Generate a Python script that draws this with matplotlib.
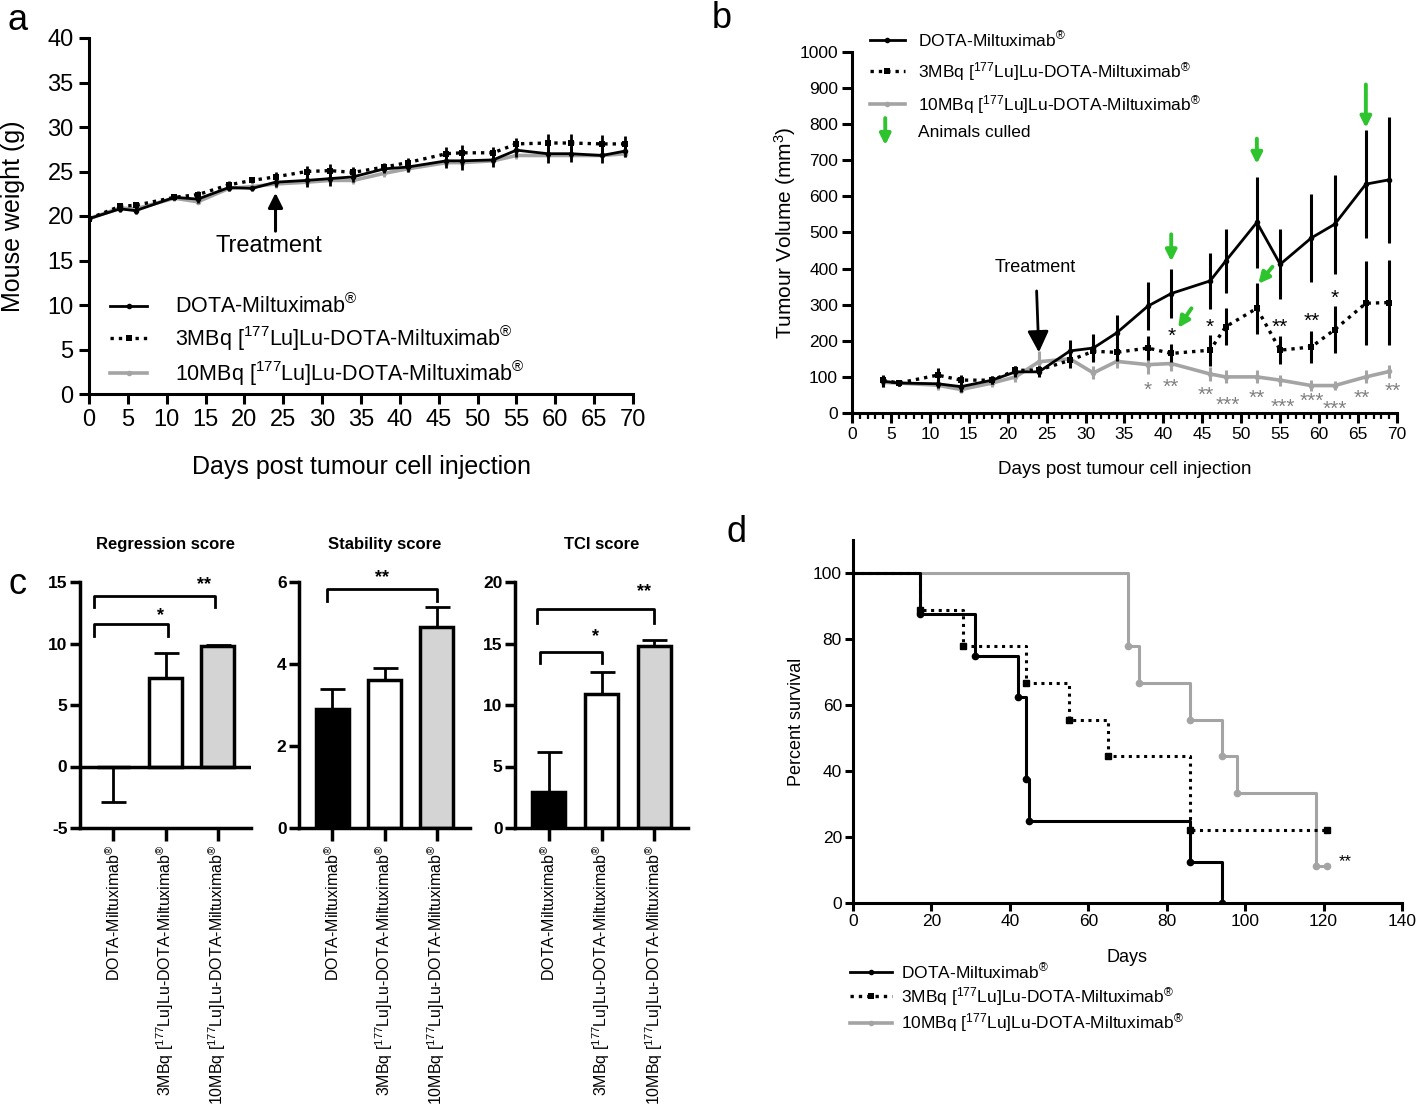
"""
Four-panel figure: body weight, tumour volume, response scores and survival.
"""
import matplotlib
matplotlib.use('Agg')
import matplotlib.pyplot as plt
from matplotlib.lines import Line2D
from matplotlib.ticker import MultipleLocator

plt.rcParams['font.family'] = ['Liberation Sans', 'DejaVu Sans']
plt.rcParams['mathtext.fontset'] = 'custom'
plt.rcParams['mathtext.rm'] = 'Liberation Sans'
plt.rcParams['mathtext.it'] = 'Liberation Sans:italic'
plt.rcParams['mathtext.bf'] = 'Liberation Sans:bold'
plt.rcParams['axes.unicode_minus'] = False

GREY = '#a4a4a4'
STAR_GREY = '#808080'
GREEN = '#2dc42d'

GROUPS = [r'DOTA-Miltuximab$^{\circledR}$',
          r'3MBq [$^{177}$Lu]Lu-DOTA-Miltuximab$^{\circledR}$',
          r'10MBq [$^{177}$Lu]Lu-DOTA-Miltuximab$^{\circledR}$']

# panel a: mouse weight (g)
days_a = [0, 4, 6, 11, 14, 18, 21, 24, 28, 31, 34, 38, 41, 46, 48, 52, 55,
          59, 62, 66, 69]
weight_ctrl = [19.7, 20.8, 20.6, 22.1, 21.9, 23.2, 23.1, 23.8, 24.0, 24.2,
               24.4, 25.3, 25.5, 26.2, 26.2, 26.3, 27.4, 27.0, 27.0, 26.8, 27.3]
weight_ctrl_err = [0.3, 0.4, 0.4, 0.3, 0.4, 0.4, 0.3, 0.5, 0.7, 0.8, 0.6, 0.5,
                   0.5, 0.8, 1.0, 0.8, 0.8, 1.0, 0.9, 0.9, 0.7]
weight_3mbq = [19.7, 21.1, 21.2, 22.1, 22.4, 23.5, 24.0, 24.4, 25.0, 25.1,
               24.9, 25.5, 26.0, 27.0, 27.1, 27.1, 28.1, 28.2, 28.2, 28.1, 28.1]
weight_3mbq_err = [0.3, 0.4, 0.4, 0.3, 0.4, 0.4, 0.3, 0.5, 0.6, 0.7, 0.6, 0.5,
                   0.5, 0.7, 0.9, 0.7, 0.7, 1.0, 1.0, 1.0, 0.9]
weight_10mbq = [19.7, 20.9, 20.8, 22.0, 21.6, 23.1, 23.3, 23.6, 23.8, 24.0,
                24.0, 24.8, 25.3, 26.0, 26.0, 26.2, 26.8, 26.8, 26.8, 26.8, 27.0]
weight_10mbq_err = [0.3, 0.3, 0.3, 0.3, 0.3, 0.3, 0.3, 0.4, 0.4, 0.4, 0.4, 0.4,
                    0.4, 0.4, 0.4, 0.4, 0.4, 0.4, 0.4, 0.4, 0.4]

# panel b: tumour volume (mm3)
days_b = [4, 6, 11, 14, 18, 21, 24, 28, 31, 34, 38, 41, 46, 48, 52, 55, 59,
          62, 66, 69]
vol_ctrl = [88, 83, 81, 73, 91, 114, 114, 172, 180, 222, 296, 331, 366, 421,
            528, 412, 485, 523, 634, 646]
vol_ctrl_err = [15, 8, 12, 15, 12, 15, 15, 30, 38, 50, 67, 67, 77, 88, 127,
                97, 123, 137, 150, 175]
vol_3mbq = [91, 83, 105, 91, 91, 118, 119, 146, 171, 168, 180, 165, 174, 239,
            290, 174, 183, 231, 304, 306]
vol_3mbq_err = [15, 8, 20, 15, 12, 12, 12, 20, 25, 25, 33, 25, 43, 52, 70, 38,
                44, 65, 116, 118]
vol_10mbq = [85, 83, 77, 65, 83, 100, 142, 150, 111, 143, 134, 137, 108, 100,
             100, 91, 76, 76, 100, 115]
vol_10mbq_err = [12, 8, 12, 10, 10, 15, 30, 18, 18, 18, 25, 20, 20, 18, 18, 15,
                 15, 12, 18, 18]
stars_3mbq = [(41, 212, '*'), (46, 236, '*'), (55, 236, '**'), (59, 254, '**'),
              (62, 318, '*')]
stars_10mbq = [(38, 62, '*'), (41, 70, '**'), (45.5, 48, '**'),
               (48.3, 20, '***'), (52, 42, '**'), (55.3, 16, '***'),
               (59, 32, '***'), (62, 10, '***'), (65.5, 42, '**'),
               (69.5, 60, '**')]
culled_vertical = [(41, 495, 420), (52, 760, 690), (66, 910, 790)]
culled_diagonal = [((43.6, 290), (41.9, 236)), ((54.0, 405), (52.2, 358))]

# panel c: response scores, one entry per group
score_titles = ['Regression score', 'Stability score', 'TCI score']
score_means = [[-0.05, 7.2, 9.8], [2.9, 3.6, 4.9], [2.9, 10.9, 14.8]]
score_sem = [[2.85, 2.0, 0.1], [0.5, 0.3, 0.5], [3.3, 1.8, 0.5]]
score_limits = [(-5, 15), (0, 6), (0, 20)]
score_ticks = [[-5, 0, 5, 10, 15], [0, 2, 4, 6], [0, 5, 10, 15, 20]]
# (left group, right group, bar height, leg end, star, star x, star y)
score_brackets = [
    [(-0.37, 1.04, 11.6, 10.6, '*', 0.9, 12.3),
     (-0.37, 1.94, 13.9, 13.0, '**', 1.73, 14.8)],
    [(-0.1, 2.0, 5.83, 5.54, '**', 0.96, 6.1)],
    [(-0.17, 1.0, 14.3, 13.4, '*', 0.88, 15.6),
     (-0.22, 2.0, 17.8, 16.7, '**', 1.8, 19.2)],
]

# panel d: Kaplan-Meier steps (day, percent survival)
surv_ctrl_t = [0, 17, 31, 42, 44, 45, 86, 94]
surv_ctrl = [100, 87.5, 75, 62.5, 37.5, 25, 12.5, 0]
surv_3mbq_t = [0, 17, 28, 44, 55, 65, 86, 121]
surv_3mbq = [100, 88.9, 77.8, 66.7, 55.6, 44.4, 22.2, 22.2]
surv_10mbq_t = [0, 70, 73, 86, 94, 98, 118, 121]
surv_10mbq = [100, 77.8, 66.7, 55.6, 44.4, 33.3, 11.1, 11.1]

W, H = 1418, 1116
fig = plt.figure(figsize=(W / 100, H / 100), dpi=100)


def add_ax(left, top, right, bottom):
    return fig.add_axes([left / W, 1 - bottom / H, (right - left) / W,
                         (bottom - top) / H])


def prism_axes(ax, lw=2.0, length=6, size=12, pad=2):
    for side in ('top', 'right'):
        ax.spines[side].set_visible(False)
    for side in ('left', 'bottom'):
        ax.spines[side].set_linewidth(lw)
    ax.tick_params(width=lw, length=length, labelsize=size, pad=pad)


line_styles = [
    dict(color='black', ls='-', marker='o', ms=4, lw=2.0, mew=0),
    dict(color='black', ls=(0, (1, 1.5)), marker='s', ms=4.5, lw=2.4, mew=0),
    dict(color=GREY, ls='-', marker='o', ms=4, lw=2.6, mew=0),
]
handles = [Line2D([], [], **st) for st in line_styles]

# ---------------------------------------------------------------- panel a
ax_a = add_ax(89, 38, 633, 394)
series_a = [(weight_10mbq, weight_10mbq_err, 2),
            (weight_3mbq, weight_3mbq_err, 3),
            (weight_ctrl, weight_ctrl_err, 4)]
for (vals, errs, z), st in zip(series_a, line_styles[::-1]):
    ax_a.errorbar(days_a, vals, yerr=errs, capsize=4, elinewidth=2,
                  capthick=2, zorder=z, **st)
ax_a.set_xlim(0, 70)
ax_a.set_ylim(0, 40)
ax_a.set_xticks(range(0, 71, 5))
ax_a.set_yticks(range(0, 41, 5))
prism_axes(ax_a, lw=2.2, length=7, size=17, pad=4)
ax_a.set_xlabel('Days post tumour cell injection', fontsize=18, labelpad=17)
ax_a.set_ylabel('Mouse weight (g)', fontsize=18, labelpad=16)
ax_a.annotate('', xy=(24, 22.6), xytext=(24, 18.3),
              arrowprops=dict(arrowstyle='-|>', lw=2.2, color='black',
                              mutation_scale=22, shrinkA=0, shrinkB=0))
ax_a.text(23.2, 16.6, 'Treatment', ha='center', va='center', fontsize=17)
ax_a.legend(handles, GROUPS, loc='lower left', bbox_to_anchor=(0.039, 0.018),
            frameon=False, fontsize=15.5, handlelength=1.7,
            handletextpad=1.3, labelspacing=0.25, borderpad=0,
            borderaxespad=0)

# ---------------------------------------------------------------- panel b
ax_b = add_ax(852, 52, 1397, 413)
series_b = [(vol_10mbq, vol_10mbq_err, 2), (vol_3mbq, vol_3mbq_err, 3),
            (vol_ctrl, vol_ctrl_err, 4)]
for (vals, errs, z), st in zip(series_b, line_styles[::-1]):
    ax_b.errorbar(days_b, vals, yerr=errs, capsize=4, elinewidth=2.2,
                  capthick=2.2, zorder=z, **st)
ax_b.set_xlim(0, 70)
ax_b.set_ylim(0, 1000)
ax_b.set_xticks(range(0, 71, 5))
ax_b.xaxis.set_minor_locator(MultipleLocator(1))
ax_b.set_yticks(range(0, 1001, 100))
prism_axes(ax_b, lw=2.2, length=7, size=12.5, pad=3)
ax_b.tick_params(axis='x', which='minor', width=1.6, length=4)
ax_b.set_xlabel('Days post tumour cell injection', fontsize=13.5, labelpad=14)
ax_b.set_ylabel(r'Tumour Volume (mm$^3$)', fontsize=15, labelpad=1)
ax_b.annotate('Treatment', xy=(24, 168), xytext=(23.6, 404),
              ha='center', va='center', fontsize=13,
              arrowprops=dict(arrowstyle='-|>', lw=2, color='black',
                              mutation_scale=32, shrinkA=9, shrinkB=0))
for x, y, s in stars_3mbq:
    ax_b.text(x, y, s, ha='center', va='center', fontsize=15, color='black')
for x, y, s in stars_10mbq:
    ax_b.text(x, y, s, ha='center', va='center', fontsize=15,
              color=STAR_GREY)
green_arrow = dict(arrowstyle='-|>', lw=2.8, color=GREEN, mutation_scale=16,
                   shrinkA=0, shrinkB=0)
for x, y0, y1 in culled_vertical:
    ax_b.annotate('', xy=(x, y1), xytext=(x, y0), arrowprops=green_arrow)
for start, end in culled_diagonal:
    ax_b.annotate('', xy=end, xytext=start, arrowprops=green_arrow)
ax_b.legend(handles, GROUPS, loc='upper left', bbox_to_anchor=(0.033, 1.062),
            frameon=False, fontsize=12.5, handlelength=2.0,
            handletextpad=0.75, labelspacing=0.6, borderpad=0,
            borderaxespad=0)
ax_b.annotate('', xy=(0.061, 0.742), xytext=(0.061, 0.817),
              xycoords='axes fraction', arrowprops=green_arrow)
ax_b.text(0.121, 0.776, 'Animals culled', transform=ax_b.transAxes,
          fontsize=12.5, va='center')

# ---------------------------------------------------------------- panel c
bar_colors = ['black', 'white', '#d4d4d4']
c_lefts = [(80, 251), (299, 470), (515, 688)]
for i, (left, right) in enumerate(c_lefts):
    ax = add_ax(left, 582, right, 828)
    means, sems = score_means[i], score_sem[i]
    ax.bar(range(3), means, width=0.62, color=bar_colors, edgecolor='black',
           linewidth=2.5, zorder=2)
    for k, (m, e) in enumerate(zip(means, sems)):
        lower, upper = ([e], [0]) if m < 0 else ([0], [e])
        ax.errorbar([k], [m], yerr=[lower, upper], fmt='none', ecolor='black',
                    elinewidth=2, capsize=9, capthick=2, zorder=1)
    lo, hi = score_limits[i]
    ax.set_ylim(lo, hi)
    ax.set_xlim(-0.64, 2.64)
    ax.set_yticks(score_ticks[i])
    if lo < 0:
        ax.axhline(0, color='black', lw=2.5, zorder=3)
    prism_axes(ax, lw=2.5, length=7, size=12.5)
    for lab in ax.get_yticklabels():
        lab.set_fontweight('bold')
    ax.set_xticks(range(3))
    ax.set_xticklabels(GROUPS, rotation=90, fontsize=11.5)
    ax.tick_params(axis='x', length=9, pad=3)
    ax.set_title(score_titles[i], fontsize=12, fontweight='bold', pad=24)
    for x0, x1, yb, yl, star, sx, sy in score_brackets[i]:
        ax.plot([x0, x0, x1, x1], [yl, yb, yb, yl], color='black', lw=2,
                clip_on=False)
        ax.text(sx, sy, star, ha='center', va='center', fontsize=13,
                fontweight='bold')

# ---------------------------------------------------------------- panel d
ax_d = add_ax(853, 540, 1402, 903)
surv_series = [(surv_10mbq_t, surv_10mbq, GREY, '-', 'o', 2),
               (surv_3mbq_t, surv_3mbq, 'black', (0, (1, 1.5)), 's', 3),
               (surv_ctrl_t, surv_ctrl, 'black', '-', 'o', 4)]
for t, s, col, ls, mk, z in surv_series:
    ax_d.step(t, s, where='post', color=col, ls=ls, lw=2.2, zorder=z)
    ax_d.plot(t[1:], s[1:], ls='none', marker=mk, color=col,
              ms=5 if mk == 's' else 4.5, zorder=z)
ax_d.text(125.5, 12.5, '**', ha='center', va='center', fontsize=12)
ax_d.set_xlim(0, 140)
ax_d.set_ylim(0, 110)
ax_d.set_xticks(range(0, 141, 20))
ax_d.set_yticks(range(0, 101, 20))
prism_axes(ax_d, lw=2.2, length=6, size=12.5)
ax_d.set_xlabel('Days', fontsize=13, labelpad=14)
ax_d.set_ylabel('Percent survival', fontsize=13, labelpad=6)
ax_d.legend(handles, GROUPS, loc='upper left', bbox_to_anchor=(-0.005, -0.162),
            frameon=False, fontsize=12.5, handlelength=2.4,
            handletextpad=0.5, labelspacing=0.2, borderpad=0,
            borderaxespad=0)

# panel letters
for letter, x, y in [('a', 18, 20), ('b', 722, 18), ('c', 17, 585),
                     ('d', 737, 533)]:
    fig.text(x / W, 1 - y / H, letter, fontsize=26, ha='center', va='center')

fig.savefig('out.png', dpi=100)
